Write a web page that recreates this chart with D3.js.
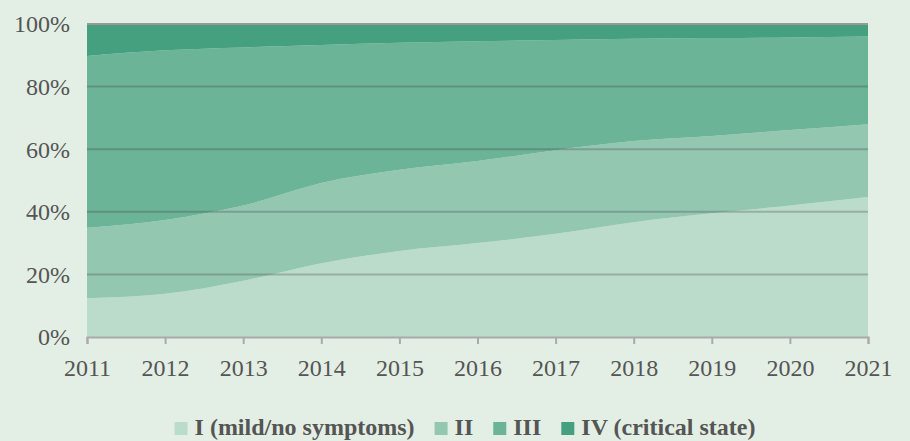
<!DOCTYPE html>
<html>
<head>
<meta charset="utf-8">
<script src="https://cdn.jsdelivr.net/npm/d3@7"></script>
<style>
  html, body { margin: 0; padding: 0; background: #e3efe4; }
  svg { display: block; }
</style>
</head>
<body>
<svg id="chart" width="910" height="441"></svg>
<script>
// ---- Data ----
const years = [2011, 2012, 2013, 2014, 2015, 2016, 2017, 2018, 2019, 2020, 2021];
const stageI   = [12.4, 13.8, 18.0, 23.6, 27.5, 30.0, 33.0, 36.7, 39.5, 42.0, 44.7];
const stageII  = [22.5, 23.6, 24.0, 25.6, 25.9, 26.2, 26.7, 25.9, 24.7, 24.1, 23.3];
const stageIII = [54.9, 54.2, 50.5, 44.1, 40.6, 38.3, 35.2, 32.7, 31.3, 29.6, 28.0];
const stageIV  = [10.2, 8.4, 7.5, 6.7, 6.0, 5.5, 5.1, 4.7, 4.5, 4.3, 4.0];
const seriesNames = ["I (mild/no symptoms)", "II", "III", "IV (critical state)"];
const seriesColors = ["#bbdccb", "#93c7b0", "#6bb497", "#45a07f"];
const yTicks = [0, 20, 40, 60, 80, 100];

// ---- Layout ----
const svg = d3.select("#chart");
const margin = { left: 87, right: 42, top: 24, bottom: 104 };
const W = 910, H = 441;
const x = d3.scaleLinear().domain([2011, 2021]).range([margin.left, W - margin.right]);
const y = d3.scaleLinear().domain([0, 100]).range([H - margin.bottom, margin.top]);

const rows = years.map((yr, i) => ({ year: yr, s0: stageI[i], s1: stageII[i], s2: stageIII[i], s3: stageIV[i] }));
const stack = d3.stack().keys(["s0", "s1", "s2", "s3"]);
const layers = stack(rows);

const area = d3.area()
  .x(d => x(d.data.year))
  .y0(d => y(d[0]))
  .y1(d => y(d[1]))
  .curve(d3.curveMonotoneX);

svg.append("g").selectAll("path")
  .data(layers)
  .join("path")
  .attr("d", area)
  .attr("fill", (d, i) => seriesColors[i]);

// gridlines
svg.append("g").selectAll("line")
  .data(yTicks.filter(t => t > 0))
  .join("line")
  .attr("x1", x(2011)).attr("x2", x(2021))
  .attr("y1", d => y(d)).attr("y2", d => y(d))
  .attr("stroke", d => d === 100 ? "#999" : "rgba(70,70,70,0.3)")
  .attr("stroke-width", 2);

// y axis labels
const fontFamily = "'Liberation Serif', 'DejaVu Serif', serif";
svg.append("g").selectAll("text")
  .data(yTicks)
  .join("text")
  .attr("x", 70)
  .attr("y", d => y(d))
  .attr("dy", "0.35em")
  .attr("text-anchor", "end")
  .attr("font-family", fontFamily)
  .attr("font-size", 24)
  .attr("fill", "#555")
  .text(d => d + "%");

// x axis
const xAxis = d3.axisBottom(x)
  .tickValues(years)
  .tickFormat(d3.format("d"))
  .tickSize(7)
  .tickPadding(15);
const gx = svg.append("g")
  .attr("transform", `translate(0,${y(0)})`)
  .call(xAxis);
gx.select(".domain").attr("stroke", "#aaa").attr("stroke-width", 2);
gx.selectAll(".tick line").attr("stroke", "#aaa").attr("stroke-width", 2);
gx.selectAll(".tick text")
  .attr("font-family", fontFamily)
  .attr("font-size", 24)
  .attr("fill", "#555");

// legend
const legend = svg.append("g");
const items = legend.selectAll("g")
  .data(seriesNames)
  .join("g");
items.append("rect")
  .attr("width", 13).attr("height", 13)
  .attr("y", -13)
  .attr("fill", (d, i) => seriesColors[i]);
items.append("text")
  .attr("x", 20)
  .attr("font-family", fontFamily)
  .attr("font-weight", "bold")
  .attr("font-size", 24)
  .attr("fill", "#555")
  .text(d => d);
const gap = 20;
let widths = [];
items.each(function () { widths.push(this.getBBox().width); });
const total = d3.sum(widths) + gap * (widths.length - 1);
let cx = 465 - total / 2;
items.each(function (d, i) {
  d3.select(this).attr("transform", `translate(${cx},${435})`);
  cx += widths[i] + gap;
});
</script>
</body>
</html>
